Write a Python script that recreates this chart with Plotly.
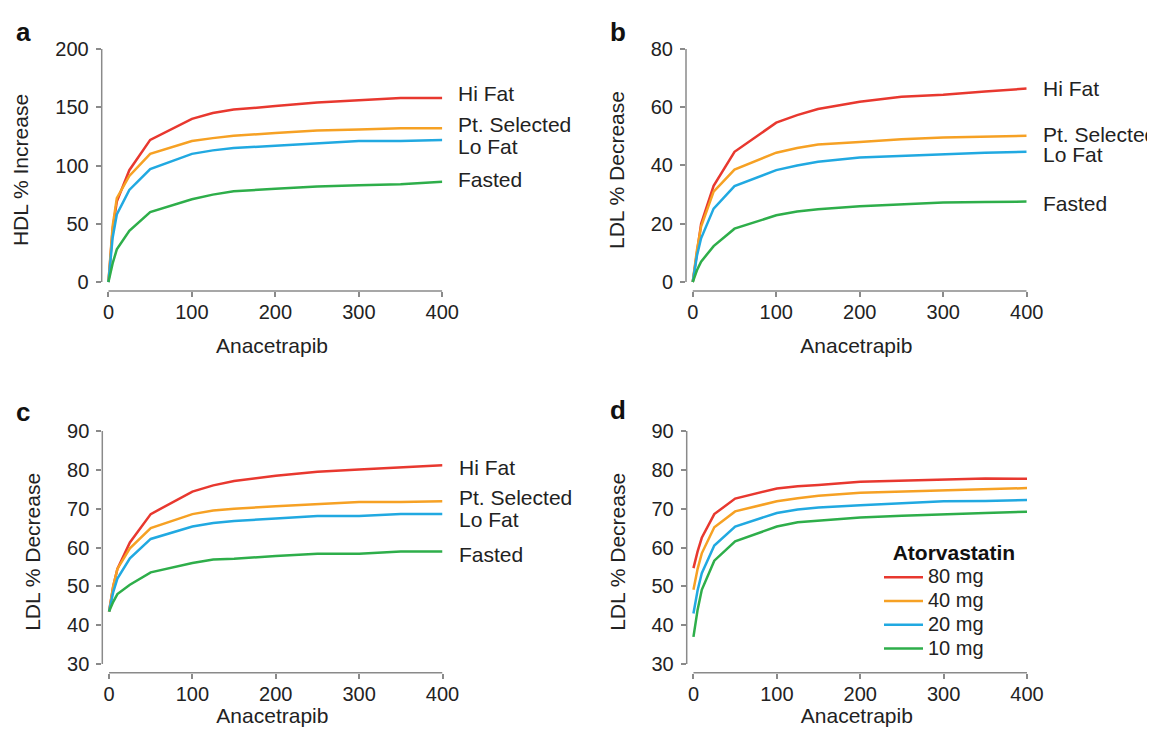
import plotly.graph_objects as go

# ---------------- data ----------------
dose = [0, 5, 10, 25, 50, 100, 125, 150, 200, 250, 300, 350, 400]

# panel a: HDL % increase
a_hi_fat = [0, 45, 69, 96, 122, 140, 145, 148, 151, 154, 156, 158, 158]
a_pt_sel = [0, 48, 72, 91, 110, 121, 123.5, 125.5, 128, 130, 131, 132, 132]
a_lo_fat = [0, 38, 58, 79, 97, 110, 113, 115, 117, 119, 121, 121, 122]
a_fasted = [0, 16, 28, 44, 60, 71, 75, 78, 80, 82, 83, 84, 86]

# panel b: LDL % decrease
b_hi_fat = [0, 11, 20, 33, 44.7, 54.7, 57.3, 59.4, 61.9, 63.6, 64.3, 65.4, 66.4]
b_pt_sel = [0, 11, 19, 31, 38.6, 44.4, 46, 47.2, 48.1, 49, 49.6, 50, 50.2]
b_lo_fat = [0, 9, 15, 25.2, 32.9, 38.4, 40, 41.3, 42.7, 43.3, 43.9, 44.4, 44.7]
b_fasted = [0, 4, 7, 12.3, 18.3, 22.9, 24.2, 25, 26, 26.7, 27.3, 27.5, 27.6]

# panel c: LDL % decrease
c_hi_fat = [43.5, 50, 54.5, 61.3, 68.6, 74.4, 76, 77.1, 78.5, 79.5, 80.1, 80.7, 81.2]
c_pt_sel = [43.5, 50, 54.5, 59.8, 65, 68.6, 69.5, 70, 70.6, 71.1, 71.7, 71.7, 71.9]
c_lo_fat = [43.5, 48.5, 52, 57.2, 62.2, 65.4, 66.3, 66.8, 67.5, 68.1, 68.1, 68.6, 68.6]
c_fasted = [43.5, 46, 48, 50.4, 53.6, 56, 56.9, 57.1, 57.8, 58.4, 58.4, 59, 59]

# panel d: LDL % decrease by atorvastatin dose
d_80mg = [54.7, 59, 62.5, 68.6, 72.6, 75.2, 75.8, 76.1, 76.9, 77.2, 77.5, 77.8, 77.7]
d_40mg = [49.1, 54.5, 58.5, 65.2, 69.3, 71.9, 72.7, 73.3, 74.1, 74.4, 74.7, 75, 75.3]
d_20mg = [43, 49, 53.4, 60.5, 65.4, 68.9, 69.8, 70.3, 70.9, 71.4, 71.9, 72, 72.2]
d_10mg = [37, 44, 49.1, 56.6, 61.6, 65.4, 66.5, 66.9, 67.7, 68.2, 68.6, 68.9, 69.2]

series_names = ["Hi Fat", "Pt. Selected", "Lo Fat", "Fasted"]
legend_names = ["80 mg", "40 mg", "20 mg", "10 mg"]
colors = ["#E8382F", "#F6A124", "#21A9E1", "#2EAE4A"]

x_ticks = [0, 100, 200, 300, 400]
a_yticks = [0, 50, 100, 150, 200]
b_yticks = [0, 20, 40, 60, 80]
cd_yticks = [30, 40, 50, 60, 70, 80, 90]

# ---------------- figure ----------------
PAGE_W, PAGE_H = 1155, 735
BODY_M = 8                      # default page margin around the plot div
W, H = PAGE_W - 2 * BODY_M, PAGE_H - 2 * BODY_M
FONT = "Liberation Sans, Arial, Helvetica, sans-serif"
TXT = "#222222"
AXC = "#8a8a8a"

fig = go.Figure()

panels = [
    ("x", "y", [a_hi_fat, a_pt_sel, a_lo_fat, a_fasted], series_names, False),
    ("x2", "y2", [b_hi_fat, b_pt_sel, b_lo_fat, b_fasted], series_names, False),
    ("x3", "y3", [c_hi_fat, c_pt_sel, c_lo_fat, c_fasted], series_names, False),
    ("x4", "y4", [d_80mg, d_40mg, d_20mg, d_10mg], legend_names, True),
]
for xa, ya, ser, names, sl in panels:
    for vals, nm, col in zip(ser, names, colors):
        disp = f"<span style='font-size:20px'>{nm}</span>" if sl else nm
        fig.add_trace(go.Scatter(
            x=dose, y=vals, mode="lines", name=disp, xaxis=xa, yaxis=ya,
            line=dict(color=col, width=2.5), showlegend=sl,
            hovertemplate=f"{nm}: %{{y}}<extra></extra>"))

def px_x(p):
    return (p - BODY_M) / W

def px_y(p):
    return 1 - (p - BODY_M) / H

geo = {
    "1": dict(xd=(101.7, 442.3), yd=(291, 49), xr=[-8.1, 400], yr=[-7.7, 200], yt=a_yticks,
              ytitle="HDL % Increase", y0=0, y1=200),
    "2": dict(xd=(686, 1026.7), yd=(291, 49), xr=[-8.1, 400], yr=[-3.1, 80], yt=b_yticks,
              ytitle="LDL % Decrease", y0=0, y1=80),
    "3": dict(xd=(102.3, 442.5), yd=(672.7, 431), xr=[-8.1, 400], yr=[27.76, 90], yt=cd_yticks,
              ytitle="LDL % Decrease", y0=30, y1=90),
    "4": dict(xd=(686.7, 1027), yd=(672.7, 431), xr=[-8.1, 400], yr=[27.76, 90], yt=cd_yticks,
              ytitle="LDL % Decrease", y0=30, y1=90),
}

layout = dict(
    width=W, height=H, autosize=False, margin=dict(l=0, r=0, t=0, b=0, pad=0, autoexpand=False),
    paper_bgcolor="white", plot_bgcolor="white",
    font=dict(family=FONT, size=20, color=TXT),
    showlegend=True,
)

shapes = []
for k, g in geo.items():
    xk = "xaxis" if k == "1" else f"xaxis{k}"
    yk = "yaxis" if k == "1" else f"yaxis{k}"
    xref = "x" if k == "1" else f"x{k}"
    yref = "y" if k == "1" else f"y{k}"
    layout[xk] = dict(
        domain=[px_x(g["xd"][0]), px_x(g["xd"][1])], range=g["xr"], automargin=False,
        anchor=yref, tickvals=x_ticks, ticks="outside", ticklen=5, tickwidth=1.5,
        tickcolor=AXC, showgrid=False, zeroline=False, showline=False,
        tickfont=dict(size=20, color=TXT), ticklabelstandoff=-2,
        title=dict(text="Anacetrapib", font=dict(size=21, color=TXT), standoff=16),
        fixedrange=True,
    )
    layout[yk] = dict(
        domain=[px_y(g["yd"][0]), px_y(g["yd"][1])], range=g["yr"], automargin=False,
        anchor=xref, tickvals=g["yt"], ticks="outside", ticklen=5, tickwidth=1.5,
        tickcolor=AXC, showgrid=False, zeroline=False, showline=False,
        tickfont=dict(size=20, color=TXT), ticklabelstandoff=3,
        title=dict(text=g["ytitle"], font=dict(size=21, color=TXT), standoff=20),
        fixedrange=True,
    )
    shapes.append(dict(type="line", xref=xref, yref=f"{yref} domain",
                       x0=0, x1=400, y0=0, y1=0, line=dict(color=AXC, width=1.5)))
    shapes.append(dict(type="line", xref=f"{xref} domain", yref=yref,
                       x0=0, x1=0, y0=g["y0"], y1=g["y1"], line=dict(color=AXC, width=1.5)))
layout["shapes"] = shapes

annotations = []
for letter, (lx, ly) in zip("abcd", [(14, 32), (608, 32), (14, 412), (608, 410)]):
    annotations.append(dict(text=f"<b>{letter}</b>", xref="paper", yref="paper",
                            x=px_x(lx), y=px_y(ly), xanchor="left", yanchor="middle",
                            showarrow=False, font=dict(size=26, color="#111111")))
label_y = {
    "x": ("y", [162, 135.6, 115.9, 87.6]),
    "x2": ("y2", [66.3, 50.5, 43.9, 27.1]),
    "x3": ("y3", [80.7, 73.0, 67.3, 58.1]),
}
for xr_, (yr_, ys) in label_y.items():
    for nm, yy in zip(series_names, ys):
        annotations.append(dict(text=nm, xref=xr_, yref=yr_, x=400, y=yy,
                                xanchor="left", yanchor="middle", xshift=14,
                                showarrow=False, font=dict(size=21, color=TXT)))
layout["annotations"] = annotations

layout["legend"] = dict(
    x=px_x(879), y=px_y(533), xanchor="left", yanchor="top",
    bgcolor="rgba(0,0,0,0)", borderwidth=0,
    title=dict(text="\u00a0\u00a0<b>Atorvastatin</b>", font=dict(size=21, color="#111111"), side="top"),
    font=dict(size=16, color=TXT), itemwidth=39, tracegroupgap=0,
)

fig.update_layout(**layout)
fig.write_html("out.html", config={"displayModeBar": False})
